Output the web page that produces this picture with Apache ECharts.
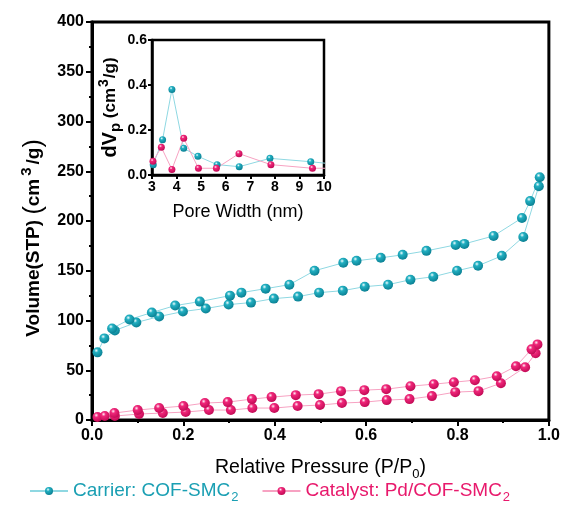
<!DOCTYPE html>
<html>
<head>
<meta charset="utf-8">
<script src="https://cdn.jsdelivr.net/npm/echarts@6/dist/echarts.min.js"></script>
<style>html,body{margin:0;padding:0;background:#fff}#chart{width:563px;height:510px}</style>
</head>
<body>
<div id="chart"></div>
<script>
// N2 isotherms, relative pressure vs adsorbed volume
var carrierAdsP = [0.012,0.027,0.050,0.097,0.147,0.199,0.249,0.299,0.348,0.398,0.451,0.497,0.549,0.597,0.648,0.697,0.747,0.799,0.845,0.897,0.944,0.978,0.980];
var carrierAdsV = [68,82,90,98,104,109,112,116,118,122,124,128,130,134,136,141,144,150,155,165,184,235,244];
var carrierDesP = [0.959,0.941,0.879,0.815,0.796,0.732,0.680,0.632,0.579,0.550,0.487,0.432,0.380,0.327,0.302,0.236,0.182,0.131,0.082,0.044];
var carrierDesV = [220,203,185,177,176,170,166,163,160,158,150,136,132,128,125,119,115,108,101,92];
var catalystAdsP = [0.012,0.028,0.050,0.103,0.155,0.205,0.256,0.304,0.351,0.399,0.450,0.499,0.547,0.597,0.645,0.695,0.744,0.795,0.846,0.895,0.948,0.971,0.975];
var catalystAdsV = [3,4,4,6,7,8,10,10,12,12,14,15,17,18,20,21,24,28,29,37,53,67,76];
var catalystDesP = [0.962,0.928,0.886,0.838,0.792,0.748,0.697,0.644,0.596,0.545,0.496,0.446,0.393,0.350,0.297,0.247,0.200,0.147,0.100,0.049];
var catalystDesV = [71,54,44,40,38,36,34,31,30,29,26,25,23,21,18,17,14,12,10,7];
// inset: pore size distribution
var carrierPoreW = [3.05,3.43,3.81,4.29,4.87,5.65,6.55,7.80,9.46,10.8];
var carrierDv = [0.046,0.157,0.380,0.119,0.083,0.046,0.037,0.074,0.059,0.044];
var catalystPoreW = [3.04,3.38,3.81,4.29,4.89,5.62,6.54,7.84,9.53,10.8];
var catalystDv = [0.061,0.123,0.025,0.163,0.030,0.030,0.095,0.046,0.030,0.030];

var names = ['Carrier: COF-SMC2','Catalyst: Pd/COF-SMC2'];
var FONT = '"Liberation Sans", Arial, sans-serif';

function pairs(xs, ys){ var r=[]; for(var i=0;i<xs.length;i++) r.push([xs[i],ys[i]]); return r; }
function ball(c1,c2,c3){
    return {type:'radial',x:0.38,y:0.32,r:0.7,colorStops:[{offset:0,color:c1},{offset:0.3,color:c2},{offset:1,color:c3}]};
}
var teal = ball('#f2feff','#22b0c2','#0a7f92');
var pink = ball('#fff0f6','#f0277a','#c10a55');

function loopSeries(name, adsP, adsV, desP, desV, ballColor, lineColor){
    return {name:name,type:'line',xAxisIndex:0,yAxisIndex:0,
        data:pairs(adsP,adsV).concat(pairs(desP,desV)),
        symbol:'circle',symbolSize:10,
        itemStyle:{color:ballColor},lineStyle:{color:lineColor,width:1},z:3};
}
function insetSeries(name, w, dv, ballColor, lineColor){
    return {name:name,type:'line',xAxisIndex:1,yAxisIndex:1,data:pairs(w,dv),
        symbol:'circle',symbolSize:7,clip:true,
        itemStyle:{color:ballColor},lineStyle:{color:lineColor,width:1},z:10};
}

var chart = echarts.init(document.getElementById('chart'));
chart.setOption({
    animation:false,
    textStyle:{fontFamily:FONT},
    grid:[
        {left:92,right:11,top:22,bottom:90,show:true,borderColor:'#000',borderWidth:3},
        {left:152,right:239,top:40,bottom:335,show:true,borderColor:'#000',borderWidth:2.5,backgroundColor:'#fff',z:5}
    ],
    legend:{
        bottom:1,left:24,itemWidth:38,itemHeight:10,itemGap:23,
        data:[{name:names[0],textStyle:{color:'#1a9fb3'}},{name:names[1],textStyle:{color:'#e8196c'}}],
        formatter:function(n){
            return n===names[0] ? '{t1|Carrier: COF-SMC}{s1|2}' : '{t2|Catalyst: Pd/COF-SMC}{s2|2}';
        },
        textStyle:{fontFamily:FONT,rich:{
            t1:{color:'#1a9fb3',fontSize:19,fontFamily:FONT},
            s1:{color:'#1a9fb3',fontSize:13,fontFamily:FONT,padding:[13,0,0,1]},
            t2:{color:'#e8196c',fontSize:19,fontFamily:FONT},
            s2:{color:'#e8196c',fontSize:13,fontFamily:FONT,padding:[13,0,0,1]}
        }}
    },
    xAxis:[
        {type:'value',gridIndex:0,min:0,max:1,interval:0.2,
         name:'{a|Relative Pressure (P/P}{s|0}{a|)}',nameLocation:'middle',nameGap:35,
         nameTextStyle:{rich:{a:{fontSize:19.5,color:'#000',fontFamily:FONT},s:{fontSize:13,color:'#000',fontFamily:FONT,padding:[13,0,0,0]}}},
         axisLine:{lineStyle:{color:'#000',width:3}},
         axisTick:{inside:false,length:6,lineStyle:{width:2,color:'#000'}},
         minorTick:{show:true,splitNumber:2,length:3,lineStyle:{width:2,color:'#000'}},
         splitLine:{show:false},
         axisLabel:{fontSize:16,fontWeight:'bold',color:'#000',margin:8,formatter:function(v){return v.toFixed(1);}}},
        {type:'value',gridIndex:1,min:3,max:10,interval:1,z:10,
         name:'Pore Width (nm)',nameLocation:'middle',nameGap:28,
         nameTextStyle:{fontSize:18,color:'#000'},
         axisLine:{lineStyle:{color:'#000',width:2.5}},
         axisTick:{length:4,lineStyle:{width:2,color:'#000'}},
         splitLine:{show:false},
         axisLabel:{fontSize:14,fontWeight:'bold',color:'#000',margin:5}}
    ],
    yAxis:[
        {type:'value',gridIndex:0,min:0,max:400,interval:50,
         name:'{a|Volume(STP) }{p|(}{a|cm}{u|3}{a|/g}{p|)}',nameLocation:'middle',nameGap:42,nameRotate:90,
         nameTextStyle:{padding:[0,34,0,0],rich:{
             a:{fontSize:19,fontWeight:'bold',color:'#000',fontFamily:FONT},
             p:{fontSize:25,color:'#000',fontFamily:FONT},
             u:{fontSize:15,fontWeight:'bold',color:'#000',fontFamily:FONT,padding:[0,3,14,3]}}},
         axisLine:{lineStyle:{color:'#000',width:3}},
         axisTick:{length:6,lineStyle:{width:2,color:'#000'}},
         minorTick:{show:true,splitNumber:2,length:3,lineStyle:{width:2,color:'#000'}},
         splitLine:{show:false},
         axisLabel:{fontSize:16,fontWeight:'bold',color:'#000',margin:8}},
        {type:'value',gridIndex:1,min:0,max:0.6,interval:0.2,z:10,
         name:'{a|dV}{s|p}{b| (cm}{u|3}{b|/g)}',nameLocation:'middle',nameGap:28,nameRotate:90,
         nameTextStyle:{rich:{
             a:{fontSize:20,fontWeight:'bold',color:'#000',fontFamily:FONT},
             s:{fontSize:15,fontWeight:'bold',color:'#000',fontFamily:FONT,padding:[12,0,0,0]},
             b:{fontSize:17,fontWeight:'bold',color:'#000',fontFamily:FONT},
             u:{fontSize:14,fontWeight:'bold',color:'#000',fontFamily:FONT,padding:[0,1,12,1]}}},
         axisLine:{lineStyle:{color:'#000',width:2.5}},
         axisTick:{length:4,lineStyle:{width:2,color:'#000'}},
         splitLine:{show:false},
         axisLabel:{fontSize:14,fontWeight:'bold',color:'#000',margin:5,formatter:function(v){return v.toFixed(1);}}}
    ],
    series:[
        loopSeries(names[0],carrierAdsP,carrierAdsV,carrierDesP,carrierDesV,teal,'#8fd8e2'),
        loopSeries(names[1],catalystAdsP,catalystAdsV,catalystDesP,catalystDesV,pink,'#f7a2c2'),
        insetSeries(names[0],carrierPoreW,carrierDv,teal,'#8fd8e2'),
        insetSeries(names[1],catalystPoreW,catalystDv,pink,'#f7a2c2')
    ]
});
</script>
</body>
</html>
